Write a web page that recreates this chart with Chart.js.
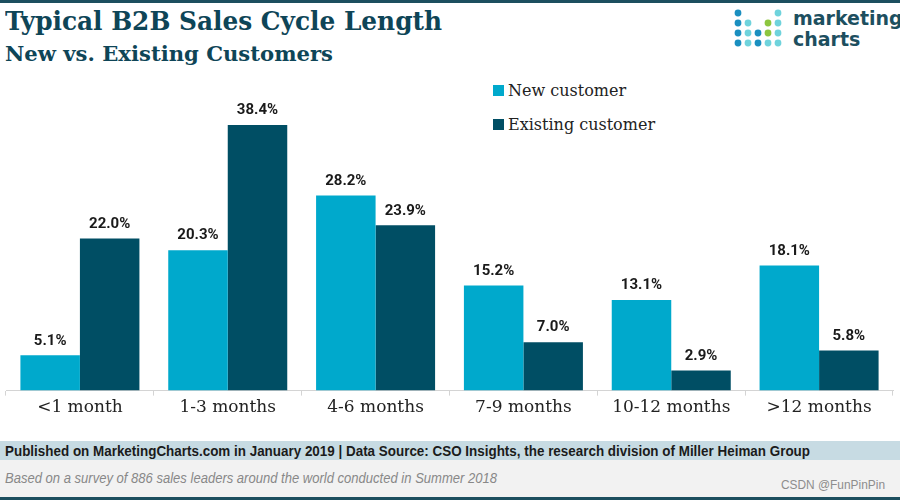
<!DOCTYPE html>
<html lang="en">
<head>
<meta charset="UTF-8">
<title>Typical B2B Sales Cycle Length</title>
<script src="https://cdn.jsdelivr.net/npm/chart.js"></script>
<style>
    html, body { margin: 0; padding: 0; }
    body { width: 900px; height: 500px; position: relative; overflow: hidden; background: #fff; }
    #topline { position: absolute; left: 0; top: 0; width: 900px; height: 3px; background: #1d4f5f; }
    #title { position: absolute; left: 5px; top: 6px; font: bold 26px "DejaVu Serif", serif; color: #0e4557; white-space: nowrap; transform-origin: left top; }
    #subtitle { position: absolute; left: 5px; top: 42px; font: bold 20px "DejaVu Serif", serif; color: #0e4557; white-space: nowrap; transform-origin: left top; }
    #logo { position: absolute; left: 734px; top: 8px; }
    #logotext { position: absolute; left: 793px; top: 8px; font: bold 19px "DejaVu Sans", sans-serif; color: #1d4f5f; line-height: 21px; }
    #legend { position: absolute; left: 493px; top: 80px; font: 16px "DejaVu Serif", serif; color: #222; }
    .item { height: 34px; line-height: 22px; white-space: nowrap; }
    .sw { display: inline-block; width: 11px; height: 11px; margin-right: 4px; vertical-align: 0px; }
    #chartbox { position: absolute; left: 0; top: 70px; width: 900px; height: 350px; }
    #band { position: absolute; left: 0; top: 441px; width: 900px; height: 19px; background: #c7dbe3; }
    #band span { position: absolute; left: 5px; top: 1px; font: bold 15px "Liberation Sans Narrow", "Liberation Sans", sans-serif; color: #1b1b1b; white-space: nowrap; transform-origin: left top; }
    #note { position: absolute; left: 0; top: 460px; width: 900px; height: 37px; background: #f2f2f2; }
    #note span { position: absolute; left: 5px; top: 10px; font: italic 14px "Liberation Sans Narrow", "Liberation Sans", sans-serif; color: #888; white-space: nowrap; transform-origin: left top; }
    #mark { position: absolute; left: 781px; top: 477px; font: 13px "Liberation Sans Narrow", "Liberation Sans", sans-serif; color: #8d8d8d; white-space: nowrap; transform-origin: left top; }
    #bottomline { position: absolute; left: 0; top: 497px; width: 900px; height: 3px; background: #1d4f5f; }
</style>
</head>
<body>
    <div id="topline"></div>
    <div id="title">Typical B2B Sales Cycle Length</div>
    <div id="subtitle">New vs. Existing Customers</div>
    <canvas id="logo" width="50" height="42"></canvas>
    <div id="logotext">marketing<br>charts</div>
    <div id="legend"></div>
    <div id="chartbox"><canvas id="salesChart"></canvas></div>
    <div id="band"><span>Published on MarketingCharts.com in January 2019 | Data Source: CSO Insights, the research division of Miller Heiman Group</span></div>
    <div id="note"><span>Based on a survey of 886 sales leaders around the world conducted in Summer 2018</span></div>
    <div id="mark">CSDN @FunPinPin</div>
    <div id="bottomline"></div>

<script>
    const categories = ['<1 month', '1-3 months', '4-6 months', '7-9 months', '10-12 months', '>12 months'];
    const newCustomer = [5.1, 20.3, 28.2, 15.2, 13.1, 18.1];
    const existingCustomer = [22.0, 38.4, 23.9, 7.0, 2.9, 5.8];
    const seriesNames = ['New customer', 'Existing customer'];
    const seriesColors = ['#00a9cc', '#004e64'];

    // fit a text line to the width it has in the picture
    function fitWidth(id, target) {
        const el = document.querySelector(id);
        const w = el.getBoundingClientRect().width;
        el.style.transform = 'scaleX(' + (target / w) + ')';
    }
    fitWidth('#title', 437);
    fitWidth('#subtitle', 328);
    fitWidth('#band span', 805);
    fitWidth('#note span', 492);
    fitWidth('#mark', 104);

    // little dot logo, rows top to bottom
    (function drawLogo() {
        const c = document.getElementById('logo').getContext('2d');
        const B = '#1a8fc0', C = '#6fd3dc', G = '#8dc63f';
        const rows = [
            [B, null, null, null, C],
            [B, C, null, G, C],
            [B, C, B, G, C],
            [B, C, B, C, C]
        ];
        rows.forEach((row, r) => {
            row.forEach((color, k) => {
                if (!color) return;
                c.fillStyle = color;
                c.beginPath();
                c.arc(4 + k * 10, 5 + r * 10, 3.4, 0, Math.PI * 2);
                c.fill();
            });
        });
    })();

    // legend
    const legend = document.getElementById('legend');
    seriesNames.forEach((name, i) => {
        const row = document.createElement('div');
        row.className = 'item';
        row.innerHTML = '<span class="sw" style="background:' + seriesColors[i] + '"></span>' + name;
        legend.appendChild(row);
    });

    // values above each bar
    const valueLabels = {
        id: 'valueLabels',
        afterDatasetsDraw(chart) {
            const ctx = chart.ctx;
            ctx.save();
            ctx.font = 'bold 15px Roboto, sans-serif';
            ctx.fillStyle = '#1a1a1a';
            ctx.textAlign = 'center';
            ctx.textBaseline = 'bottom';
            chart.data.datasets.forEach((ds, i) => {
                chart.getDatasetMeta(i).data.forEach((bar, j) => {
                    ctx.fillText(ds.data[j].toFixed(1) + '%', bar.x, bar.y - 7);
                });
            });
            ctx.restore();
        }
    };

    new Chart(document.getElementById('salesChart'), {
        type: 'bar',
        data: {
            labels: categories,
            datasets: [
                { label: seriesNames[0], data: newCustomer, backgroundColor: seriesColors[0] },
                { label: seriesNames[1], data: existingCustomer, backgroundColor: seriesColors[1] }
            ]
        },
        options: {
            responsive: true,
            maintainAspectRatio: false,
            animation: false,
            layout: { padding: { left: 6, right: 7, top: 44, bottom: 0 } },
            datasets: { bar: { categoryPercentage: 0.805, barPercentage: 1.0 } },
            scales: {
                x: {
                    grid: { display: true, drawOnChartArea: false, drawTicks: true, tickLength: 5, color: '#d4d4d4' },
                    border: { display: true, color: '#d4d4d4', dash: [2, 2] },
                    ticks: { color: '#222', font: { family: 'DejaVu Serif', size: 17 }, padding: 2 }
                },
                y: { display: false, min: 0, max: 40 }
            },
            plugins: {
                legend: { display: false },
                tooltip: { enabled: false }
            }
        },
        plugins: [valueLabels]
    });
</script>
</body>
</html>
